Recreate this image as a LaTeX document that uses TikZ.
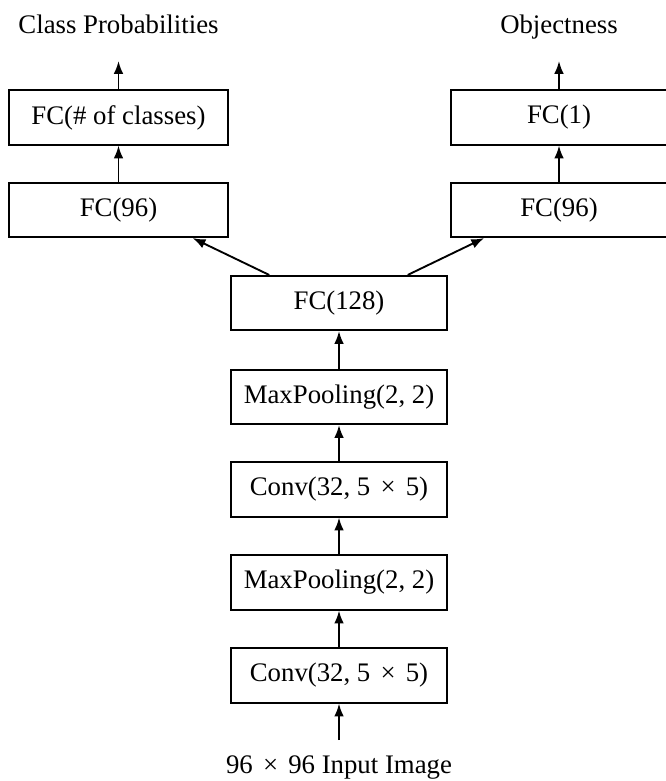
\documentclass[tikz,border=0pt]{standalone}
\usepackage{fontspec}
\setmainfont{Liberation Serif}
\usetikzlibrary{arrows.meta,calc}
\newcommand{\ttimes}{\hspace{0.38em}×\hspace{0.38em}}
\begin{document}
\begin{tikzpicture}[x=0.3734pt,y=-0.3734pt,
  layer/.style={draw,line width=0.75pt,minimum width=80.7pt,minimum height=20.2pt,inner sep=0pt,font=\fontsize{10}{12}\selectfont},
  lbl/.style={inner sep=0pt,anchor=base,font=\fontsize{10}{12}\selectfont},
  arr/.style={line width=0.7pt,-{Latex[length=4.8pt,width=3.6pt]}}]
\useasboundingbox (0,0) rectangle (666,781);
% left branch
\node[lbl] (cp) at (118.5,34) {Class Probabilities};
\node[layer,minimum width=81.8pt] (fcc) at (118.5,117.5) {FC(\# of classes)};
\node[layer,minimum width=81.8pt] (l96) at (118.5,210) {FC(96)};
% right branch
\node[lbl] (obj) at (559,34) {Objectness};
\node[layer] (fc1) at (559,117.5) {FC(1)};
\node[layer] (r96) at (559,210) {FC(96)};
% trunk
\node[layer] (fc128) at (339,303) {FC(128)};
\node[layer] (mp2) at (339,397) {MaxPooling(2, 2)};
\node[layer] (cv2) at (339,489.5) {Conv(32, 5\ttimes 5)};
\node[layer] (mp1) at (339,582.5) {MaxPooling(2, 2)};
\node[layer] (cv1) at (339,675.5) {Conv(32, 5\ttimes 5)};
\node[lbl] (in) at (339,773) {96\ttimes 96 Input Image};
\coordinate (inarr) at (339,740);
\coordinate (cparr) at (118.5,61);
\coordinate (objarr) at (559,61);
% connectors
\draw[arr] (inarr) -- (cv1.south);
\draw[arr] (cv1) -- (mp1);
\draw[arr] (mp1) -- (cv2);
\draw[arr] (cv2) -- (mp2);
\draw[arr] (mp2) -- (fc128);
\draw[arr] ($(fc128.north west)!0.18!(fc128.north east)$) -- ($(l96.south west)!0.835!(l96.south east)$);
\draw[arr] ($(fc128.north west)!0.815!(fc128.north east)$) -- ($(r96.south west)!0.157!(r96.south east)$);
\draw[arr] (l96) -- (fcc);
\draw[arr] (fcc.north) -- (cparr);
\draw[arr] (r96) -- (fc1);
\draw[arr] (fc1.north) -- (objarr);
\end{tikzpicture}
\end{document}
